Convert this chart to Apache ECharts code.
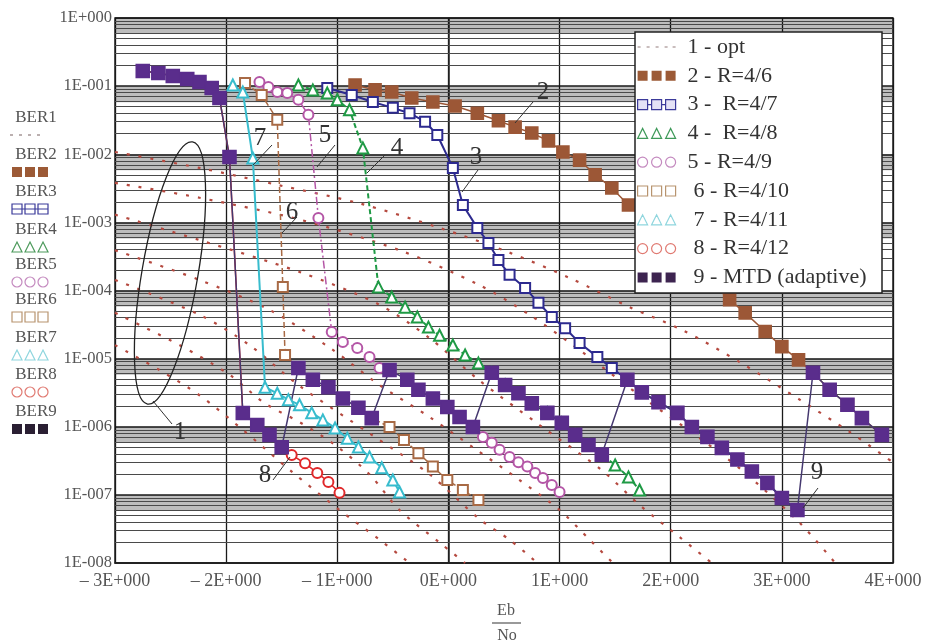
<!DOCTYPE html>
<html><head><meta charset="utf-8">
<script src="https://cdn.jsdelivr.net/npm/echarts@6/dist/echarts.min.js"></script>
<style>html,body{margin:0;padding:0;background:#fff}#c{width:928px;height:644px}</style>
</head><body><div id="c"></div>
<script>
// ---------- tick labels ----------
const xTickValues = [-3,-2,-1,0,1,2,3,4];
const xTickLabels = ['\u2013 3E+000','\u2013 2E+000','\u2013 1E+000','0E+000','1E+000','2E+000','3E+000','4E+000'];
const yTickLabels = ['1E+000','1E-001','1E-002','1E-003','1E-004','1E-005','1E-006','1E-007','1E-008'];
const legendNames = ['1 - opt','2 - R=4/6','3 -  R=4/7','4 -  R=4/8','5 - R=4/9','6 - R=4/10','7 - R=4/11','8 - R=4/12','9 - MTD (adaptive)'];
const sideNames = ['BER1','BER2','BER3','BER4','BER5','BER6','BER7','BER8','BER9'];

// ---------- data (Eb/No, BER) ----------
const opt1X = [-3,-2.24,-1.52,-0.80,-0.08,0.53,1.09,1.63,2.11,2.62,3.16,3.61,4.0];
const opt1Y = [0.0108,0.0063,0.0035,0.0019,8.3e-4,3.7e-4,1.53e-4,5.7e-5,2.6e-5,8.9e-6,2.5e-6,8.4e-7,3.0e-7];
const opt2X = [-3,-2.24,-1.34,-0.44,0.28,0.73,1.18,1.72,2.26,2.64,3.16,3.48];
const opt2Y = [0.0038,0.0023,0.0011,3.9e-4,1.2e-4,4.4e-5,1.34e-5,2.9e-6,6.8e-7,2.3e-7,3.9e-8,1e-8];
const opt3X = [-3,-2.24,-1.34,-0.63,-0.17,0.27,0.82,1.38,1.72,2.08,2.37];
const opt3Y = [0.0013,5.5e-4,1.87e-4,6.3e-5,2.0e-5,4.9e-6,1.06e-6,2.3e-7,7.1e-8,2.4e-8,1e-8];
const opt4X = [-3,-2.24,-1.61,-1.05,-0.62,-0.17,0.22,0.64,1.00,1.27,1.48];
const opt4Y = [3.9e-4,1.43e-4,5.2e-5,1.38e-5,4.1e-6,1.39e-6,5.0e-7,1.65e-7,6.0e-8,2.2e-8,1e-8];
const opt5X = [-3,-2.24,-1.79,-1.35,-0.69,-0.17,0.28,0.55,0.80];
const opt5Y = [1.43e-4,4.4e-5,1.58e-5,4.1e-6,7.6e-7,2.0e-7,4.4e-8,2.2e-8,1e-8];
const opt6X = [-3,-2.42,-1.97,-1.65,-1.34,-1.02,-0.71,-0.44,-0.08,0.15];
const opt6Y = [4.7e-5,1.58e-5,5.8e-6,2.2e-6,1.17e-6,5.4e-7,2.0e-7,6.0e-8,2.0e-8,1e-8];
const opt7X = [-3,-2.60,-2.24,-1.85,-1.41,-0.98,-0.62,-0.35];
const opt7Y = [1.58e-5,6.8e-6,2.9e-6,9.0e-7,2.2e-7,6.0e-8,2.2e-8,1e-8];

const r46X = [-0.84,-0.66,-0.51,-0.33,-0.14,0.06,0.26,0.45,0.60,0.75,0.90,1.03,1.18,1.32,1.47,1.62,2.53,2.67,2.85,3.00,3.15,3.28,3.43,3.59,3.72,3.90];
const r46Y = [0.104,0.088,0.082,0.067,0.0585,0.051,0.040,0.031,0.025,0.0205,0.0157,0.0108,0.0082,0.0050,0.0032,0.0018,7.3e-5,4.7e-5,2.5e-5,1.5e-5,9.6e-6,6.2e-6,3.5e-6,2.1e-6,1.34e-6,7.6e-7];

const r47X = [-1.09,-0.87,-0.68,-0.50,-0.35,-0.21,-0.10,0.04,0.13,0.26,0.36,0.45,0.55,0.69,0.81,0.93,1.05,1.18,1.34,1.47,1.61,1.74,1.89,2.06,2.19,2.33,2.46,2.60,2.73,2.87,3.00,3.14];
const r47Y = [0.094,0.074,0.0585,0.048,0.040,0.030,0.0192,0.0063,0.0018,8.3e-4,5.0e-4,2.8e-4,1.7e-4,1.09e-4,6.6e-5,4.1e-5,2.8e-5,1.7e-5,1.06e-5,7.3e-6,4.9e-6,3.2e-6,2.3e-6,1.6e-6,9.9e-7,7.1e-7,4.9e-7,3.3e-7,2.2e-7,1.5e-7,9.0e-8,6.0e-8];

const r48X = [-1.35,-1.22,-1.09,-1.00,-0.89,-0.77,-0.63,-0.51,-0.39,-0.28,-0.18,-0.08,0.04,0.15,0.27,0.39,0.51,0.63,0.75,0.89,1.02,1.14,1.26,1.38,1.50,1.62,1.72];
const r48Y = [0.104,0.088,0.079,0.063,0.045,0.0124,1.13e-4,8.0e-5,5.7e-5,4.1e-5,2.9e-5,2.2e-5,1.58e-5,1.13e-5,8.6e-6,6.2e-6,4.1e-6,3.1e-6,2.2e-6,1.6e-6,1.14e-6,7.6e-7,5.4e-7,3.9e-7,2.75e-7,1.83e-7,1.18e-7];

const r49X = [-1.70,-1.62,-1.54,-1.45,-1.35,-1.26,-1.17,-1.05,-0.95,-0.82,-0.71,-0.62,-0.53,-0.37,-0.27,-0.14,-0.01,0.10,0.22,0.31,0.39,0.46,0.55,0.63,0.71,0.78,0.85,0.93,1.00];
const r49Y = [0.115,0.097,0.082,0.079,0.063,0.038,1.16e-3,2.46e-5,1.75e-5,1.43e-5,1.06e-5,7.3e-6,6.8e-6,4.9e-6,3.5e-6,2.6e-6,1.95e-6,1.39e-6,9.9e-7,7.1e-7,5.8e-7,4.6e-7,3.6e-7,3.0e-7,2.6e-7,2.1e-7,1.77e-7,1.4e-7,1.1e-7];

const r410X = [-1.83,-1.68,-1.54,-1.49,-1.47,-1.35,-1.22,-1.08,-0.95,-0.81,-0.69,-0.53,-0.40,-0.27,-0.14,-0.01,0.13,0.27];
const r410Y = [0.111,0.074,0.032,1.13e-4,1.13e-5,7.3e-6,4.9e-6,3.8e-6,2.6e-6,1.9e-6,1.34e-6,9.9e-7,6.4e-7,4.1e-7,2.6e-7,1.65e-7,1.18e-7,8.4e-8];

const r411X = [-1.94,-1.85,-1.76,-1.65,-1.54,-1.44,-1.34,-1.23,-1.13,-1.02,-0.91,-0.81,-0.71,-0.60,-0.50,-0.44];
const r411Y = [0.104,0.082,0.0088,3.8e-6,3.1e-6,2.5e-6,2.1e-6,1.6e-6,1.26e-6,9.6e-7,6.8e-7,5.05e-7,3.6e-7,2.5e-7,1.65e-7,1.1e-7];

const r412X = [-2.75,-2.61,-2.48,-2.35,-2.24,-2.13,-2.06,-1.97,-1.85,-1.72,-1.61,-1.50,-1.41,-1.29,-1.18,-1.08,-0.98];
const r412Y = [0.167,0.156,0.141,0.127,0.115,0.094,0.067,0.0091,1.59e-6,1.06e-6,7.6e-7,5.0e-7,3.85e-7,2.9e-7,2.1e-7,1.55e-7,1.07e-7];

const mtdX = [-2.75,-2.61,-2.48,-2.35,-2.24,-2.13,-2.06,-1.97,-1.85,-1.72,-1.61,-1.50,-1.35,-1.22,-1.08,-0.95,-0.81,-0.69,-0.53,-0.37,-0.27,-0.14,-0.01,0.10,0.22,0.39,0.51,0.63,0.75,0.89,1.02,1.14,1.26,1.38,1.61,1.74,1.89,2.06,2.19,2.33,2.46,2.60,2.73,2.87,3.00,3.14,3.28,3.43,3.59,3.72,3.90];
const mtdY = [0.167,0.156,0.141,0.127,0.115,0.094,0.067,0.0091,1.59e-6,1.06e-6,7.6e-7,5.0e-7,7.3e-6,4.9e-6,3.8e-6,2.6e-6,1.9e-6,1.34e-6,6.8e-6,4.9e-6,3.5e-6,2.6e-6,1.95e-6,1.39e-6,9.9e-7,6.2e-6,4.1e-6,3.1e-6,2.2e-6,1.6e-6,1.14e-6,7.6e-7,5.4e-7,3.9e-7,4.9e-6,3.2e-6,2.3e-6,1.6e-6,9.9e-7,7.1e-7,4.9e-7,3.3e-7,2.2e-7,1.5e-7,9.0e-8,6.0e-8,6.2e-6,3.5e-6,2.1e-6,1.34e-6,7.6e-7];

// ---------- styles ----------
const SERIF = '"Liberation Serif","DejaVu Serif",serif';
const C = {opt:'#b5493f', r46:'#9c5736', r47:'#2d2a8f', r48:'#1f9a45', r49:'#b456a6', r410:'#a86a45', r411:'#38bccd', r412:'#e0282a', mtd:'#5a2d8c', mtdLine:'#45386f'};

function pts(xs, ys){ return xs.map((x,i)=>[x, ys[i]]); }
function mk(name, xs, ys, o){
  return {type:'line', name, data: pts(xs,ys), symbol:o.symbol, symbolSize:o.size, showSymbol:true, showAllSymbol:true,
    itemStyle:{color:o.color, borderColor:o.border||o.color, borderWidth:o.bw||1.6},
    lineStyle:{color:o.lineColor||o.color, width:o.lw, type:o.lt||'solid'},
    z:2, animation:false, silent:true, emphasis:{disabled:true}};
}
const optStyle = {symbol:'none', size:0, color:C.opt, lw:2.2, lt:[3,9]};
const optSeries = [[opt1X,opt1Y],[opt2X,opt2Y],[opt3X,opt3Y],[opt4X,opt4Y],[opt5X,opt5Y],[opt6X,opt6Y],[opt7X,opt7Y]]
  .map(([a,b]) => Object.assign(mk(legendNames[0], a, b, optStyle), {smooth:0.3}));

// grid helper lines (log minor lines + grey bands under decade lines)
const minorLines = [];
const bands = [];
for (let e = 0; e < 8; e++) {
  for (let k = 2; k <= 9; k++) minorLines.push({yAxis: k * Math.pow(10, -(e + 1))});
  bands.push([{yAxis: 0.58 * Math.pow(10, -e)}, {yAxis: Math.pow(10, -e)}]);
}
const gridSeries = {type:'line', name:'grid', data:[], silent:true, z:1,
  markLine:{silent:true, symbol:['none','none'], z:1, precision:14, label:{show:false}, animation:false,
    lineStyle:{color:'#4a4a4a', width:1, type:'solid'}, emphasis:{disabled:true}, data:minorLines},
  markArea:{silent:true, z:1, animation:false, itemStyle:{color:'rgba(0,0,0,0.26)'}, emphasis:{disabled:true}, data:bands}};

const series = [gridSeries, ...optSeries,
  mk(legendNames[1], r46X, r46Y, {symbol:'rect', size:12, color:C.r46, lw:1.5}),
  mk(legendNames[2], r47X, r47Y, {symbol:'emptyRect', size:10, color:C.r47, lw:2}),
  mk(legendNames[3], r48X, r48Y, {symbol:'emptyTriangle', size:11, color:C.r48, lw:2, lt:[5,3]}),
  mk(legendNames[4], r49X, r49Y, {symbol:'emptyCircle', size:10, color:C.r49, lw:1.5, lt:[8,3,2,3]}),
  mk(legendNames[5], r410X, r410Y, {symbol:'emptyRect', size:10, color:C.r410, lw:1.5, lt:[6,3]}),
  mk(legendNames[6], r411X, r411Y, {symbol:'emptyTriangle', size:11, color:C.r411, lw:2}),
  mk(legendNames[7], r412X, r412Y, {symbol:'emptyCircle', size:10, color:C.r412, lw:1.5}),
  mk(legendNames[8], mtdX, mtdY, {symbol:'rect', size:13, color:C.mtd, lw:1.5, lineColor:C.mtdLine})
];

// legend icons
const ICON = {
  dots:'path://M0,4h3v2h-3z M9,4h3v2h-3z M18,4h3v2h-3z M27,4h3v2h-3z M35,4h3v2h-3z',
  sq:'path://M0,0H10V10H0Z M14,0H24V10H14Z M28,0H38V10H28Z',
  sqLine:'path://M0,0H10V10H0Z M10,5H14 M14,0H24V10H14Z M24,5H28 M28,0H38V10H28Z',
  tri:'path://M0,10L5,0L10,10Z M14,10L19,0L24,10Z M28,10L33,0L38,10Z',
  circ:'path://M0,5a5,5 0 1,0 10,0a5,5 0 1,0 -10,0Z M14,5a5,5 0 1,0 10,0a5,5 0 1,0 -10,0Z M28,5a5,5 0 1,0 10,0a5,5 0 1,0 -10,0Z'
};
const indent = {padding:[0,0,0,13]};
const legendData = [
  {name:legendNames[0], icon:ICON.dots, itemStyle:{color:'#c9bdbd', borderWidth:0}},
  {name:legendNames[1], icon:ICON.sq, itemStyle:{color:'#9c5a36', borderWidth:0}},
  {name:legendNames[2], icon:ICON.sqLine, itemStyle:{color:'#e4e2f6', borderColor:'#3b3a9a', borderWidth:1.2}},
  {name:legendNames[3], icon:ICON.tri, itemStyle:{color:'#ffffff', borderColor:'#3f9a5a', borderWidth:1.2}},
  {name:legendNames[4], icon:ICON.circ, itemStyle:{color:'#ffffff', borderColor:'#c48abf', borderWidth:1.2}},
  {name:legendNames[5], icon:ICON.sq, itemStyle:{color:'#ffffff', borderColor:'#b8946f', borderWidth:1.2}, textStyle:indent},
  {name:legendNames[6], icon:ICON.tri, itemStyle:{color:'#ffffff', borderColor:'#8fd6de', borderWidth:1.2}, textStyle:indent},
  {name:legendNames[7], icon:ICON.circ, itemStyle:{color:'#ffffff', borderColor:'#e07a72', borderWidth:1.2}, textStyle:indent},
  {name:legendNames[8], icon:ICON.sq, itemStyle:{color:'#3d2450', borderWidth:0}, textStyle:indent}
];

// ---------- graphic: side legend, legend box, annotations ----------
const G = [];
G.push({type:'rect', shape:{x:635, y:32, width:247, height:261}, style:{fill:'#fff', stroke:'#222', lineWidth:1.5}, z:3, silent:true});
function txt(t, x, y, size, color, align){
  return {type:'text', x, y, z:10, silent:true, style:{text:t, font: size + 'px ' + SERIF, fill:color, textAlign:align||'center', align:align||'center', textVerticalAlign:'middle', verticalAlign:'middle'}};
}
function seg(x1,y1,x2,y2){ return {type:'line', z:10, silent:true, shape:{x1,y1,x2,y2}, style:{stroke:'#333', lineWidth:1}}; }
// side "BERn" column
const sideTextY = [118,155,192,230,265,300,338,375,412];
const sideKinds = [['dots','#bbb0b0'],['sq','#9c5a36'],['sqLine','#3b3a9a'],['tri','#4d9a5c'],['circ','#c48abf'],['sq','#b8946f'],['tri','#8fd6de'],['circ','#e07a72'],['sq','#2a1f33']];
sideNames.forEach((n,i)=>{
  G.push(txt(n, 36, sideTextY[i], 17, '#555'));
  const y = sideTextY[i] + 17;
  const [kind, col] = sideKinds[i];
  if (kind === 'dots') {
    for (let j=0;j<4;j++) G.push({type:'rect', z:10, silent:true, shape:{x:10+j*9, y:y-1, width:3, height:2}, style:{fill:col}});
    return;
  }
  for (let j=0;j<3;j++){
    const cx = 17 + j*13;
    const hollow = i>=2 && i<=7;
    const st = hollow ? {fill:'#fff', stroke:col, lineWidth:1.2} : {fill:col};
    if (kind==='sq' || kind==='sqLine') G.push({type:'rect', z:10, silent:true, shape:{x:cx-5, y:y-5, width:10, height:10}, style:st});
    else if (kind==='tri') G.push({type:'polygon', z:10, silent:true, shape:{points:[[cx-5,y+5],[cx,y-5],[cx+5,y+5]]}, style:st});
    else G.push({type:'circle', z:10, silent:true, shape:{cx, cy:y, r:5}, style:st});
  }
  if (kind==='sqLine') G.push({type:'line', z:10, silent:true, shape:{x1:12,y1:y,x2:48,y2:y}, style:{stroke:col, lineWidth:1}});
});
// curve annotations
G.push({type:'ellipse', z:10, silent:true, x:170, y:273, rotation:-0.17, shape:{cx:0, cy:0, rx:28, ry:133}, style:{fill:'none', stroke:'#222', lineWidth:1.3}});
G.push(seg(153,401,172,424));
G.push(txt('1', 180, 432, 25, '#333'));
G.push(txt('2', 543, 92, 25, '#333'));  G.push(seg(533,102,515,123));
G.push(txt('3', 476, 157, 25, '#333')); G.push(seg(478,170,462,192));
G.push(txt('4', 397, 148, 25, '#333')); G.push(seg(385,155,367,173));
G.push(txt('5', 325, 135, 25, '#333')); G.push(seg(335,145,317,167));
G.push(txt('6', 292, 212, 25, '#333')); G.push(seg(297,217,282,233));
G.push(txt('7', 260, 138, 25, '#333')); G.push(seg(272,145,253,165));
G.push(txt('8', 265, 475, 25, '#333')); G.push(seg(273,480,290,457));
G.push(txt('9', 817, 472, 25, '#333')); G.push(seg(818,488,803,508));
// axis title Eb / No
G.push(txt('Eb', 506, 611, 16, '#555'));
G.push({type:'line', z:10, silent:true, shape:{x1:492,y1:623,x2:521,y2:623}, style:{stroke:'#555', lineWidth:1.2}});
G.push(txt('No', 507, 636, 16, '#555'));

const option = {
  animation:false,
  backgroundColor:'#fff',
  grid:{left:115, right:35, top:18, bottom:81, show:true, borderColor:'#222', borderWidth:1.5, backgroundColor:'transparent'},
  xAxis:{type:'value', min:-3, max:4, interval:1,
    axisLine:{show:true, lineStyle:{color:'#222', width:1.5}}, axisTick:{show:false},
    splitLine:{show:true, lineStyle:{color:'#1a1a1a', width:1.3}},
    axisLabel:{margin:9, color:'#555', fontFamily:SERIF, fontSize:18,
      formatter:(v)=>{ const i = xTickValues.indexOf(Math.round(v)); return i>=0 ? xTickLabels[i] : ''; }}},
  yAxis:{type:'log', logBase:10, min:1e-8, max:1,
    axisLine:{show:true, lineStyle:{color:'#222', width:1.5}}, axisTick:{show:false},
    splitLine:{show:true, lineStyle:{color:'#1a1a1a', width:1.6}},
    axisLabel:{margin:3, color:'#555', fontFamily:SERIF, fontSize:16.5,
      formatter:(v)=>{ const e = Math.round(Math.log10(v)); return yTickLabels[-e] || ''; }}},
  legend:{show:true, orient:'vertical', left:637, top:36, padding:0, itemWidth:38, itemHeight:10, itemGap:6.8,
    selectedMode:false, z:4, data:legendData,
    textStyle:{fontFamily:SERIF, fontSize:22, color:'#333', lineHeight:20, padding:[0,0,0,7]}},
  graphic:{elements:G},
  series
};
const chart = echarts.init(document.getElementById('c'), null, {renderer:'canvas'});
chart.setOption(option);
</script></body></html>
